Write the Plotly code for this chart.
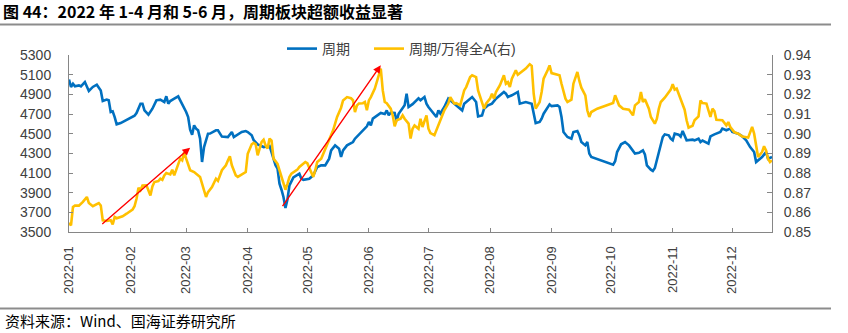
import plotly.graph_objects as go

# 周期板块指数（左轴）
zq_days = ["01-01","01-02","01-03","01-04","01-06","01-07","01-09","01-10","01-11","01-13","01-15","01-17","01-18","01-20","01-21","01-22","01-23","01-24","01-25","01-27","01-30",
           "02-03","02-04","02-06","02-07","02-08","02-10","02-12","02-14","02-16","02-18","02-19","02-20","02-21","02-23","02-25","02-26","02-28",
           "03-01","03-02","03-03","03-04","03-05","03-06","03-07","03-08","03-09","03-10","03-11","03-12","03-13","03-16","03-17","03-19","03-22","03-24","03-25","03-28","03-29","03-31",
           "04-01","04-03","04-04","04-06","04-09","04-12","04-13","04-15","04-16","04-17","04-18","04-19","04-20","04-21","04-22","04-24","04-27","04-28","04-29",
           "05-02","05-04","05-06","05-08","05-10","05-12","05-13","05-15","05-17","05-18","05-19","05-21","05-24","05-25","05-28","05-31",
           "06-01","06-02","06-03","06-05","06-07","06-09","06-10","06-11","06-12","06-14","06-15","06-16","06-18","06-19","06-20","06-21","06-23","06-25","06-26","06-27","06-29","06-30",
           "07-01","07-03","07-05","07-06","07-07","07-09","07-11","07-13","07-16","07-18","07-19","07-21","07-23","07-25","07-26","07-28","07-29","07-31",
           "08-02","08-04","08-06","08-08","08-09","08-10","08-12","08-15","08-16","08-19","08-22","08-23","08-24","08-26","08-27","08-28","08-30","08-31",
           "09-01","09-04","09-05","09-06","09-07","09-09","09-11","09-12","09-14","09-15","09-16","09-18","09-19","09-20","09-21","09-26","09-29",
           "10-02","10-03","10-04","10-06","10-08","10-10","10-12","10-13","10-15","10-17","10-18","10-19","10-21","10-22","10-23","10-24","10-25","10-26","10-27","10-28","10-30","10-31",
           "11-01","11-02","11-04","11-05","11-06","11-08","11-11","11-12","11-14","11-15","11-16","11-19","11-20","11-22","11-25","11-26","11-28","11-30",
           "12-01","12-04","12-06","12-08","12-10","12-12","12-13","12-16","12-18","12-19","12-21"]
zq_vals = [5050,4975,5008,4981,4991,4981,5025,4975,4934,4975,4998,4940,4832,4846,4839,4720,4727,4669,4595,4608,4642,
           4683,4710,4805,4805,4737,4693,4754,4839,4846,4822,4880,4805,4832,4856,4880,4839,4764,
           4720,4669,4540,4490,4585,4551,4534,4450,4212,4364,4433,4500,4501,4534,4534,4470,4465,4517,4466,4510,4517,4527,
           4517,4483,4433,4390,4364,4375,4310,4180,4145,3991,3930,3856,3745,3830,3975,4055,4093,4042,4030,
           4042,4076,4161,4178,4178,4246,4330,4381,4347,4263,4330,4381,4415,4449,4517,4575,
           4619,4585,4653,4686,4710,4700,4737,4686,4715,4710,4629,4703,4754,4788,4907,4771,4800,4839,4860,4840,4873,4805,
           4771,4720,4669,4737,4705,4771,4856,4822,4771,4737,4805,4839,4873,4822,4676,4685,4754,4788,
           4805,4856,4890,4924,4907,4873,4890,4924,4805,4822,4805,4686,4608,4619,4653,4703,4771,4798,
           4780,4788,4771,4669,4517,4466,4449,4517,4527,4483,4415,4381,4415,4297,4263,4229,4202,
           4185,4220,4313,4392,4415,4381,4330,4297,4305,4330,4290,4178,4134,4120,4150,4230,4310,4398,4466,4493,4483,4449,
           4432,4500,4490,4470,4527,4432,4439,4432,4449,4415,4430,4398,4473,4493,4517,4551,4534,4551,
           4517,4500,4473,4432,4364,4313,4212,4263,4313,4246,4263]

# 周期/万得全A（右轴）
ratio_days = ["01-01","01-02","01-03","01-04","01-06","01-08","01-10","01-11","01-13","01-16","01-17","01-18","01-20","01-22","01-23","01-24","01-25","01-28","01-30",
              "02-02","02-03","02-04","02-05","02-06","02-07","02-09","02-11","02-12","02-13","02-15","02-16","02-17","02-18","02-19","02-21","02-22","02-23","02-25","02-26","02-27","02-28",
              "03-01","03-03","03-05","03-08","03-10","03-11","03-12","03-14","03-16","03-17","03-19","03-21","03-22","03-23","03-24","03-26","03-27","03-29","03-31",
              "04-01","04-03","04-04","04-05","04-06","04-08","04-09","04-10","04-11","04-12","04-13","04-14","04-16","04-17","04-19","04-20","04-21","04-22","04-23","04-26","04-27","04-29","04-30",
              "05-01","05-03","05-04","05-05","05-06","05-08","05-10","05-12","05-14","05-16","05-18","05-19","05-21","05-23","05-24","05-25","05-26","05-27","05-29","05-30","05-31",
              "06-01","06-02","06-04","06-05","06-06","06-07","06-08","06-09","06-10","06-12","06-13","06-14","06-15","06-17","06-18","06-19","06-21","06-22","06-23","06-24","06-26","06-27","06-28","06-29","06-30",
              "07-01","07-02","07-04","07-05","07-07","07-09","07-11","07-12","07-14","07-15","07-17","07-18","07-19","07-20","07-22","07-23","07-25","07-26","07-27","07-29","07-30",
              "08-01","08-02","08-03","08-04","08-06","08-08","08-09","08-10","08-11","08-12","08-14","08-15","08-17","08-19","08-21","08-22","08-23","08-24","08-25","08-26","08-27","08-28","08-30","08-31",
              "09-01","09-03","09-05","09-06","09-08","09-09","09-11","09-12","09-14","09-15","09-16","09-18","09-19","09-20","09-21","09-24","09-29",
              "10-02","10-03","10-04","10-05","10-07","10-10","10-12","10-13","10-15","10-16","10-17","10-18","10-20","10-21","10-23","10-24","10-25","10-26","10-28","10-30","10-31",
              "11-01","11-02","11-03","11-04","11-06","11-07","11-08","11-09","11-11","11-12","11-14","11-15","11-16","11-18","11-19","11-20","11-21","11-22","11-23","11-25","11-26","11-28","11-29","11-30",
              "12-02","12-04","12-06","12-09","12-11","12-12","12-13","12-14","12-16","12-17","12-18","12-19","12-20","12-21"]
ratio_vals = [0.8546,0.8534,0.8627,0.8634,0.8634,0.8653,0.8678,0.8647,0.8631,0.8647,0.8635,0.8559,0.8556,0.8560,0.8539,0.8576,0.8570,0.8580,0.8593,
              0.8614,0.8631,0.8669,0.8725,0.8712,0.8736,0.8737,0.8686,0.8732,0.8754,0.8759,0.8771,0.8765,0.8788,0.8800,0.8793,0.8817,0.8788,0.8839,0.8873,0.8864,0.8905,
              0.8873,0.8814,0.8805,0.8780,0.8712,0.8678,0.8703,0.8729,0.8771,0.8760,0.8814,0.8839,0.8864,0.8885,0.8839,0.8788,0.8780,0.8793,0.8805,
              0.8898,0.8946,0.8953,0.8946,0.8890,0.8958,0.8969,0.8940,0.8924,0.8975,0.8965,0.8873,0.8847,0.8814,0.8754,0.8715,0.8745,0.8780,0.8797,0.8817,0.8831,0.8847,0.8856,
              0.8850,0.8803,0.8780,0.8814,0.8856,0.8873,0.8924,0.8975,0.9017,0.9085,0.9132,0.9169,0.9186,0.9180,0.9170,0.9110,0.9144,0.9153,0.9155,0.9161,0.9119,
              0.9169,0.9186,0.9229,0.9263,0.9305,0.9331,0.9220,0.9161,0.9155,0.9127,0.9093,0.9037,0.9068,0.9076,0.9093,0.9076,0.9051,0.8975,0.9025,0.9042,0.9025,0.9076,0.9034,0.9059,0.9093,
              0.9025,0.9003,0.8992,0.9017,0.9068,0.9119,0.9153,0.9186,0.9153,0.9155,0.9144,0.9178,0.9220,0.9237,0.9288,0.9297,0.9288,0.9220,0.9186,0.9127,0.9153,
              0.9178,0.9203,0.9178,0.9212,0.9246,0.9297,0.9254,0.9262,0.9237,0.9280,0.9322,0.9300,0.9314,0.9331,0.9353,0.9345,0.9203,0.9127,0.9144,0.9161,0.9212,0.9280,0.9322,0.9347,
              0.9308,0.9302,0.9297,0.9254,0.9178,0.9161,0.9173,0.9254,0.9314,0.9268,0.9234,0.9195,0.9119,0.9085,0.9110,0.9127,0.9144,
              0.9156,0.9195,0.9170,0.9144,0.9127,0.9122,0.9093,0.9144,0.9161,0.9212,0.9161,0.9175,0.9127,0.9085,0.9051,0.9075,0.9127,0.9161,0.9183,0.9212,0.9224,
              0.9251,0.9224,0.9229,0.9203,0.9144,0.9122,0.9068,0.9031,0.9040,0.9068,0.9088,0.9169,0.9156,0.9153,0.9119,0.9085,0.9127,0.9115,0.9071,0.9071,0.9068,0.9042,0.9059,0.9034,
              0.9008,0.9000,0.8986,0.8980,0.9034,0.9000,0.8932,0.8881,0.8907,0.8936,0.8915,0.8873,0.8856,0.8864]

month_ticks = ["2022-%02d" % m for m in range(1, 13)]

# 超额收益区间的两段示意箭头（起点 -> 终点，左轴刻度）
trend_arrows = [
    (("2022-01-17", 3568), ("2022-03-03", 4358)),
    (("2022-04-18", 3748), ("2022-06-07", 5195)),
]

BLUE = "#0070C0"
GOLD = "#FFC000"
TXT = "#404040"
AX = "#868686"

W, H = 848, 333
ML, MR, MT, MB = 69, 76, 55, 101
PW, PH = W - ML - MR, H - MT - MB


def px_x(p):
    return (p - ML) / PW


def px_y(p):
    return (H - MB - p) / PH


fig = go.Figure()
fig.add_trace(go.Scatter(x=["2022-" + d for d in zq_days], y=zq_vals, name="周期",
                         mode="lines", line=dict(color=BLUE, width=2.6), legend="legend"))
fig.add_trace(go.Scatter(x=["2022-" + d for d in ratio_days], y=ratio_vals, name="周期/万得全A(右)",
                         mode="lines", line=dict(color=GOLD, width=2.6), yaxis="y2", legend="legend2"))

for (x0, y0), (x1, y1) in trend_arrows:
    fig.add_annotation(x=x1, y=y1, ax=x0, ay=y0, xref="x", yref="y", axref="x", ayref="y",
                       text="", showarrow=True, arrowhead=2, arrowsize=1.1, arrowwidth=1.4,
                       arrowcolor="#FF0000", standoff=0)

fig.add_annotation(text="资料来源：Wind、国海证券研究所", xref="paper", yref="paper",
                   x=px_x(3), y=px_y(320), xanchor="left", yanchor="middle", showarrow=False,
                   font=dict(family="Noto Sans CJK SC", size=15, color="#000000"))

for yy in (24.5, 308.5):
    fig.add_shape(type="line", xref="paper", yref="paper", x0=px_x(0), x1=px_x(831),
                  y0=px_y(yy), y1=px_y(yy), line=dict(color="#8C8C8C", width=2))

legend_font = dict(family="Liberation Sans, Noto Sans CJK SC", size=14, color=TXT)

fig.update_layout(
    width=W, height=H, margin=dict(l=ML, r=MR, t=MT, b=MB),
    paper_bgcolor="white", plot_bgcolor="white",
    title=dict(text="<b>图 44：2022 年 1-4 月和 5-6 月，周期板块超额收益显著</b>",
               xref="container", yref="container", x=3 / W, y=1 - 12 / H,
               xanchor="left", yanchor="middle",
               font=dict(family="Noto Sans CJK SC", size=16, color="#000000")),
    font=dict(family="Liberation Sans, Noto Sans CJK SC", color=TXT),
    showlegend=True,
    legend=dict(orientation="h", x=px_x(282), y=px_y(49), xanchor="left", yanchor="middle",
                font=legend_font, bgcolor="rgba(0,0,0,0)"),
    legend2=dict(orientation="h", x=px_x(369), y=px_y(49), xanchor="left", yanchor="middle",
                 font=legend_font, bgcolor="rgba(0,0,0,0)"),
    xaxis=dict(type="date", range=["2022-01-01", "2022-12-21"],
               tickvals=[t + "-01" for t in month_ticks], ticktext=month_ticks,
               tickangle=-90, ticks="inside", ticklen=4, tickcolor=AX,
               showline=True, linecolor=AX, linewidth=1, showgrid=False, zeroline=False,
               tickfont=dict(size=13, color=TXT), ticklabelstandoff=8),
    yaxis=dict(range=[3500, 5300], dtick=200, tick0=3500, ticks="inside", ticklen=4, tickcolor=AX,
               showline=True, linecolor=AX, linewidth=1, showgrid=False, zeroline=False,
               tickfont=dict(size=14, color=TXT), ticklabelstandoff=14),
    yaxis2=dict(range=[0.85, 0.94], dtick=0.01, tick0=0.85, tickformat=".2f", overlaying="y",
                side="right", ticks="inside", ticklen=5, tickcolor=AX,
                showline=True, linecolor=AX, linewidth=1, showgrid=False, zeroline=False,
                tickfont=dict(size=14, color=TXT), ticklabelstandoff=8),
)

fig.write_html("out.html")
